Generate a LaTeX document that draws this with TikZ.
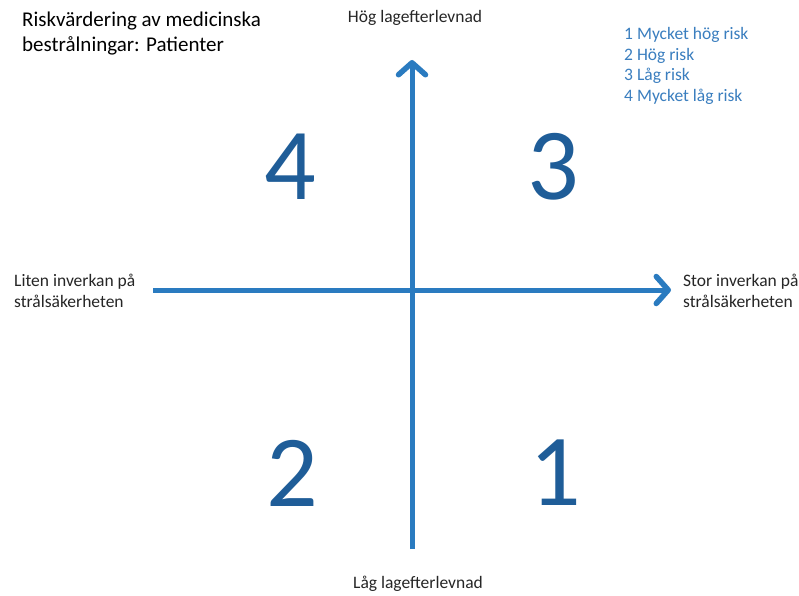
\documentclass[tikz,border=0pt]{standalone}
\usepackage{fontspec}
\setmainfont{Carlito}
\usetikzlibrary{arrows.meta}

\definecolor{axisblue}{RGB}{42,123,192}
\definecolor{numblue}{RGB}{31,93,152}
\definecolor{keyblue}{RGB}{58,126,191}

\tikzset{
  axis/.style={draw=axisblue, line width=5pt,
    -{Straight Barb[length=12pt,width=27pt,line width=5.5pt,line cap=round,line join=round]}},
  label/.style={font=\fontsize{17.5}{21}\selectfont, text=black!85, inner sep=0pt},
  quadrant/.style={font=\fontsize{102}{102}\selectfont, text=numblue, inner sep=0pt}
}

\begin{document}
\begin{tikzpicture}[x=1pt,y=-1pt]
    \useasboundingbox[fill=white] (0,0) rectangle (799,595);

    % axes
    \coordinate (low) at (412,549);
    \coordinate (high) at (412,60);
    \coordinate (small) at (153,290);
    \coordinate (big) at (671,290);
    \draw[axis] (low) -- (high);
    \draw[axis] (small) -- (big);

    \node[align=left, anchor=west, font=\fontsize{21}{25}\selectfont, inner sep=0pt]
      (title) at (22,34) {Riskvärdering av medicinska\\bestrålningar: Patienter};
    \node[label] (hoglag) at (415,18) {Hög lagefterlevnad};
    \node[label] (laglag) at (418,584) {Låg lagefterlevnad};
    \node[label, align=left, anchor=west] (liten) at (14,291)
      {Liten inverkan på\\strålsäkerheten};
    \node[label, align=left, anchor=west] (stor) at (683,291)
      {Stor inverkan på\\strålsäkerheten};

    \node[label, align=left, anchor=west, text=keyblue,
      font=\fontsize{17.5}{20.7}\selectfont] (key) at (624,66)
      {1 Mycket hög risk\\2 Hög risk\\3 Låg risk\\4 Mycket låg risk};

    \node[quadrant] (q4) at (290,167) {4};
    \node[quadrant] (q3) at (553,167) {3};
    \node[quadrant] (q2) at (292,473) {2};
    \node[quadrant] (q1) at (555,473) {1};
\end{tikzpicture}
\end{document}
